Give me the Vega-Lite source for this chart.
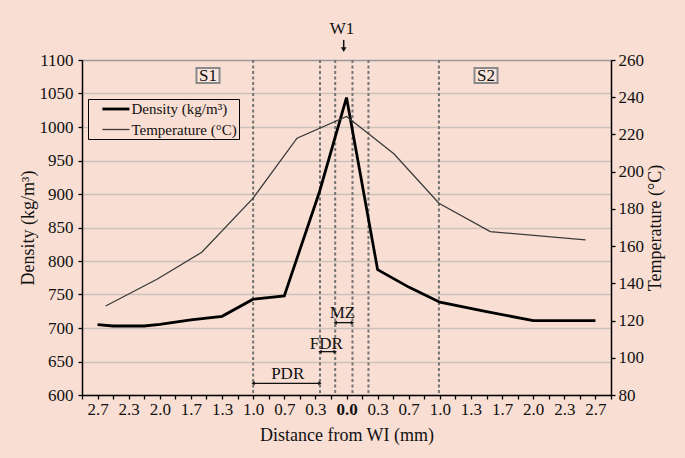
{
  "$schema": "https://vega.github.io/schema/vega-lite/v6.json",
  "width": 529,
  "height": 335,
  "autosize": {"type": "none"},
  "padding": {"left": 82, "top": 60, "right": 74, "bottom": 63},
  "background": "#f9ded3",
  "config": {
    "font": "Liberation Serif",
    "view": {"stroke": null},
    "axis": {
      "labelFont": "Liberation Serif",
      "titleFont": "Liberation Serif",
      "labelColor": "#111111",
      "titleColor": "#111111",
      "labelFontSize": 17,
      "titleFontSize": 18,
      "titleFontWeight": "normal",
      "domainColor": "#000000",
      "domainWidth": 1.5,
      "tickColor": "#000000",
      "tickWidth": 1.3,
      "tickSize": 4
    },
    "text": {"font": "Liberation Serif", "color": "#111111"}
  },
  "datasets": {
    "density": [
      {"series": "Density (kg/m³)", "d": -2.6667, "v": 705},
      {"series": "Density (kg/m³)", "d": -2.5, "v": 703},
      {"series": "Density (kg/m³)", "d": -2.1667, "v": 703},
      {"series": "Density (kg/m³)", "d": -2.0, "v": 705.5},
      {"series": "Density (kg/m³)", "d": -1.6667, "v": 712},
      {"series": "Density (kg/m³)", "d": -1.3333, "v": 717.5},
      {"series": "Density (kg/m³)", "d": -1.0, "v": 743},
      {"series": "Density (kg/m³)", "d": -0.6667, "v": 748},
      {"series": "Density (kg/m³)", "d": -0.29, "v": 903},
      {"series": "Density (kg/m³)", "d": 0, "v": 1044},
      {"series": "Density (kg/m³)", "d": 0.3333, "v": 787},
      {"series": "Density (kg/m³)", "d": 0.6667, "v": 761},
      {"series": "Density (kg/m³)", "d": 1.0, "v": 738.5},
      {"series": "Density (kg/m³)", "d": 1.5, "v": 724.5},
      {"series": "Density (kg/m³)", "d": 2.0, "v": 711},
      {"series": "Density (kg/m³)", "d": 2.6667, "v": 711}
    ],
    "temperature": [
      {"series": "Temperature (°C)", "d": -2.58, "v": 127.8},
      {"series": "Temperature (°C)", "d": -2.03, "v": 142.2},
      {"series": "Temperature (°C)", "d": -1.55, "v": 156.7},
      {"series": "Temperature (°C)", "d": -1.0, "v": 185.8},
      {"series": "Temperature (°C)", "d": -0.53, "v": 218},
      {"series": "Temperature (°C)", "d": 0, "v": 229.7},
      {"series": "Temperature (°C)", "d": 0.23, "v": 220.6},
      {"series": "Temperature (°C)", "d": 0.51, "v": 209.5},
      {"series": "Temperature (°C)", "d": 0.99, "v": 183},
      {"series": "Temperature (°C)", "d": 1.54, "v": 167.8},
      {"series": "Temperature (°C)", "d": 2.56, "v": 163.3}
    ],
    "zones": [
      {"p": -1.0}, {"p": -0.284}, {"p": -0.121}, {"p": 0.064}, {"p": 0.235}, {"p": 0.99}
    ],
    "arrows": [
      {"name": "PDR", "x1": -1.0, "x2": -0.284, "ay": 617.5, "tx": -0.63, "ty": 632},
      {"name": "FDR", "x1": -0.284, "x2": -0.121, "ay": 664.7, "tx": -0.217, "ty": 675.5},
      {"name": "MZ", "x1": -0.121, "x2": 0.064, "ay": 708, "tx": -0.043, "ty": 723}
    ],
    "sections": [
      {"name": "S1", "x1": -1.607, "x2": -1.36, "y1": 1065.7, "y2": 1088, "cx": -1.484, "cy": 1076.5},
      {"name": "S2", "x1": 1.371, "x2": 1.618, "y1": 1065.7, "y2": 1088, "cx": 1.494, "cy": 1076.5}
    ],
    "weld": [
      {"name": "W1", "tx": -0.048, "ty": 1146, "ax": -0.03, "y1": 1130, "y2": 1117, "hy": 1115.5}
    ]
  },
  "layer": [
    {
      "layer": [
        {
          "data": {"name": "zones"},
          "mark": {"type": "rule", "stroke": "#747474", "strokeWidth": 2, "strokeDash": [3, 2.5]},
          "encoding": {
            "x": {"field": "p", "type": "quantitative"}
          }
        },
        {
          "data": {"name": "sections"},
          "mark": {"type": "rect", "fill": "#fbe6dd", "stroke": "#8a8a8a", "strokeWidth": 2},
          "encoding": {
            "x": {"field": "x1", "type": "quantitative"},
            "x2": {"field": "x2"},
            "y": {"field": "y1", "type": "quantitative"},
            "y2": {"field": "y2"}
          }
        },
        {
          "data": {"name": "sections"},
          "mark": {"type": "text", "fontSize": 17, "align": "center", "baseline": "middle"},
          "encoding": {
            "x": {"field": "cx", "type": "quantitative"},
            "y": {"field": "cy", "type": "quantitative"},
            "text": {"field": "name"}
          }
        },
        {
          "data": {"name": "arrows"},
          "mark": {"type": "rule", "stroke": "#111111", "strokeWidth": 1.3},
          "encoding": {
            "x": {"field": "x1", "type": "quantitative"},
            "x2": {"field": "x2"},
            "y": {"field": "ay", "type": "quantitative"}
          }
        },
        {
          "data": {"name": "arrows"},
          "mark": {"type": "point", "shape": "triangle-left", "filled": true, "color": "#111111", "size": 16, "opacity": 1},
          "encoding": {
            "x": {"field": "x1", "type": "quantitative"},
            "y": {"field": "ay", "type": "quantitative"}
          }
        },
        {
          "data": {"name": "arrows"},
          "mark": {"type": "point", "shape": "triangle-right", "filled": true, "color": "#111111", "size": 16, "opacity": 1},
          "encoding": {
            "x": {"field": "x2", "type": "quantitative"},
            "y": {"field": "ay", "type": "quantitative"}
          }
        },
        {
          "data": {"name": "arrows"},
          "mark": {"type": "text", "fontSize": 17, "align": "center", "baseline": "middle"},
          "encoding": {
            "x": {"field": "tx", "type": "quantitative"},
            "y": {"field": "ty", "type": "quantitative"},
            "text": {"field": "name"}
          }
        },
        {
          "data": {"name": "weld"},
          "mark": {"type": "text", "fontSize": 17, "align": "center", "baseline": "middle"},
          "encoding": {
            "x": {"field": "tx", "type": "quantitative"},
            "y": {"field": "ty", "type": "quantitative"},
            "text": {"field": "name"}
          }
        },
        {
          "data": {"name": "weld"},
          "mark": {"type": "rule", "stroke": "#111111", "strokeWidth": 1.5},
          "encoding": {
            "x": {"field": "ax", "type": "quantitative"},
            "y": {"field": "y1", "type": "quantitative"},
            "y2": {"field": "y2"}
          }
        },
        {
          "data": {"name": "weld"},
          "mark": {"type": "point", "shape": "triangle-down", "filled": true, "color": "#111111", "size": 32, "opacity": 1},
          "encoding": {
            "x": {"field": "ax", "type": "quantitative"},
            "y": {"field": "hy", "type": "quantitative"}
          }
        },
        {
          "data": {"name": "density"},
          "mark": {"type": "line", "strokeJoin": "miter"},
          "encoding": {
            "x": {
              "field": "d",
              "type": "quantitative",
              "scale": {"domain": [-2.8333, 2.8333], "nice": false, "zero": false},
              "axis": {
                "title": "Distance from WI (mm)",
                "orient": "bottom",
                "values": [-2.8333, -2.6667, -2.5, -2.3333, -2.1667, -2, -1.8333, -1.6667, -1.5, -1.3333, -1.1667, -1, -0.8333, -0.6667, -0.5, -0.3333, -0.1667, 0, 0.1667, 0.3333, 0.5, 0.6667, 0.8333, 1, 1.1667, 1.3333, 1.5, 1.6667, 1.8333, 2, 2.1667, 2.3333, 2.5, 2.6667, 2.8333],
                "tickCount": 100,
                "labelExpr": "(abs(round(datum.value * 6)) % 2 == 0) ? format(abs(datum.value), '.1f') : ''",
                "labelFontWeight": {"condition": {"test": "datum.value == 0", "value": "bold"}, "value": "normal"},
                "labelPadding": 2,
                "labelFlush": false,
                "labelOverlap": false,
                "grid": false,
                "titlePadding": 9,
                "encode": {"ticks": {"y": {"value": -2.5}, "y2": {"value": 2.5}}}
              }
            },
            "y": {
              "field": "v",
              "type": "quantitative",
              "scale": {"domain": [600, 1100], "nice": false, "zero": false},
              "axis": {
                "title": "Density (kg/m³)",
                "orient": "left",
                "values": [600, 650, 700, 750, 800, 850, 900, 950, 1000, 1050, 1100],
                "tickCount": 100,
                "format": "d",
                "labelPadding": 5,
                "labelOverlap": false,
                "grid": true,
                "gridColor": {"condition": {"test": "datum.value == 1100", "value": "#9a9a9a"}, "value": "#cdc1bb"},
                "gridWidth": 1.5,
                "titlePadding": 2,
                "encode": {"ticks": {"x": {"value": 4}, "x2": {"value": -4}}}
              }
            },
            "color": {
              "field": "series",
              "type": "nominal",
              "scale": {"domain": ["Density (kg/m³)", "Temperature (°C)"], "range": ["#000000", "#3a3a3a"]},
              "legend": {
                "orient": "none",
                "legendX": 6,
                "legendY": 39,
                "title": null,
                "strokeColor": "#000000",
                "fillColor": "#f9ded3",
                "padding": 1.5,
                "rowPadding": 4,
                "labelFont": "Liberation Serif",
                "labelFontSize": 15,
                "labelColor": "#111111",
                "symbolType": "M-1.91,0H1.91",
                "symbolSize": 200,
                "symbolOffset": 17.9,
                "labelOffset": 7
              }
            },
            "strokeWidth": {
              "field": "series",
              "type": "nominal",
              "scale": {"domain": ["Density (kg/m³)", "Temperature (°C)"], "range": [2.8, 1.3]}
            }
          }
        }
      ]
    },
    {
      "data": {"name": "temperature"},
      "mark": {"type": "line"},
      "encoding": {
        "x": {
          "field": "d",
          "type": "quantitative",
          "scale": {"domain": [-2.8333, 2.8333], "nice": false, "zero": false}
        },
        "y": {
          "field": "v",
          "type": "quantitative",
          "scale": {"domain": [80, 260], "nice": false, "zero": false},
          "axis": {
            "title": "Temperature (°C)",
            "orient": "right",
            "values": [80, 100, 120, 140, 160, 180, 200, 220, 240, 260],
            "tickCount": 100,
            "labelPadding": 3,
            "grid": false,
            "titleAngle": -90,
            "titleBaseline": "top",
            "titlePadding": 3,
            "encode": {"ticks": {"x": {"value": -3}, "x2": {"value": 3}}}
          }
        },
        "color": {"field": "series", "type": "nominal"},
        "strokeWidth": {"field": "series", "type": "nominal"}
      }
    }
  ],
  "resolve": {"scale": {"y": "independent"}}
}
